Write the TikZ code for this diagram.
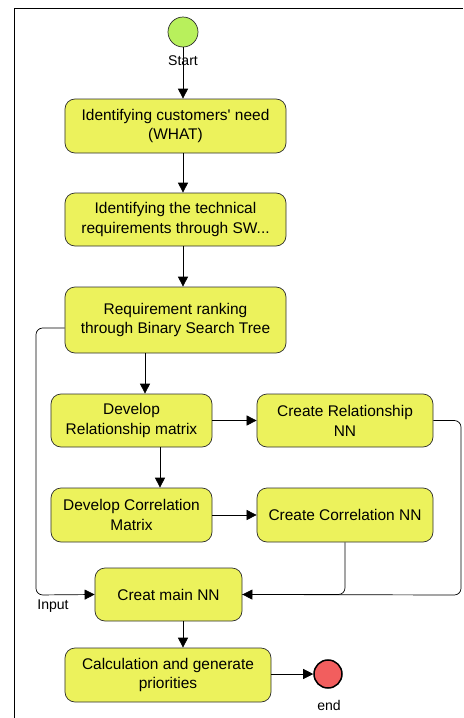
\documentclass[tikz,border=0pt]{standalone}
\usepackage{fontspec}
\setmainfont{Liberation Sans}
\usetikzlibrary{arrows.meta}

\definecolor{boxfill}{HTML}{ECF25C}
\definecolor{boxline}{HTML}{2E2E2E}
\definecolor{startfill}{HTML}{B8F05C}
\definecolor{endfill}{HTML}{F25E5E}

\tikzset{
  activity/.style={draw=boxline, line width=0.6pt, fill=boxfill, rounded corners=0.3cm, align=center,
    inner sep=0pt, font=\fontsize{13.2}{17}\selectfont},
  flow/.style={-{Triangle[length=0.3cm,width=0.3cm]}, black, line width=0.6pt},
  small/.style={font=\fontsize{12}{13}\selectfont}
}

\begin{document}
\begin{tikzpicture}[x=0.03cm, y=-0.03cm]
          \useasboundingbox (0,0) rectangle (463,718);
          \draw[line width=0.6pt] (14,718) -- (14,8) -- (463,8);
          %
          \node[circle, draw=boxline, line width=0.6pt, fill=startfill, minimum size=0.9cm] (start) at (183,32) {};
          \node[small] (startlbl) at (183,61) {Start};
          \node[circle, draw=black, line width=1.3pt, fill=endfill, minimum size=0.84cm] (end) at (328,674) {};
          \node[small] (endlbl) at (329,705) {end};
          %
          \node[activity, minimum width=6.63cm, minimum height=1.62cm] (need) at (175.5,126) {Identifying customers\textquotesingle{} need \\ (WHAT)};
          \node[activity, minimum width=6.63cm, minimum height=1.59cm] (techreq) at (175.5,219.5) {Identifying the technical \\ requirements through SW...};
          \node[activity, minimum width=6.63cm, minimum height=1.98cm] (ranking) at (175.5,320) {Requirement ranking \\ through Binary Search Tree};
          \node[activity, minimum width=4.83cm, minimum height=1.59cm] (devrel) at (131.5,420.5) {Develop \\ Relationship matrix};
          \node[activity, minimum width=5.28cm, minimum height=1.59cm] (crrel) at (345,420.5) {Create Relationship \\ NN};
          \node[activity, minimum width=4.83cm, minimum height=1.62cm] (devcor) at (131.5,515) {Develop Correlation \\ Matrix};
          \node[activity, minimum width=5.28cm, minimum height=1.62cm] (crcor) at (345,515) {Create Correlation NN};
          \node[activity, minimum width=4.41cm, minimum height=1.59cm] (mainnn) at (168.5,594.5) {Creat main NN};
          \node[activity, minimum width=6.18cm, minimum height=1.62cm] (calc) at (168,675) {Calculation and generate \\ priorities};
          %
          \coordinate (inL) at (36,595);
          \coordinate (outR) at (461,595);
          %
          \draw[flow] (start) -- (start |- need.north);
          \draw[flow] (start |- need.south) -- (start |- techreq.north);
          \draw[flow] (start |- techreq.south) -- (start |- ranking.north);
          \draw[flow] ([xshift=0.405cm]devrel.north |- ranking.south) -- ([xshift=0.405cm]devrel.north);
          \draw[flow] ([xshift=0.855cm]devrel.south) -- ([xshift=0.855cm]devcor.north);
          \draw[flow] (devrel.east) -- (crrel.west);
          \draw[flow] (devcor.east) -- (crcor.west);
          \draw[flow, rounded corners=0.2cm] ([yshift=-0.24cm]ranking.west) -| (inL) -- (mainnn.west);
          \draw[flow, rounded corners=0.2cm] (crrel.east) -| (outR) -- (mainnn.east);
          \draw[line width=0.6pt, rounded corners=0.2cm] (crcor.south) |- (mainnn.east);
          \draw[flow] ([xshift=0.435cm]mainnn.south) -- ([xshift=0.435cm]mainnn.south |- calc.north);
          \draw[flow] (calc.east |- end) -- (end.west);
          %
          \node[small] (inlbl) at (53,606) {Input};
        \end{tikzpicture}
\end{document}
